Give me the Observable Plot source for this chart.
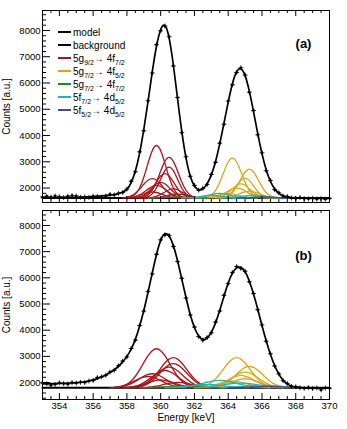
<!DOCTYPE html>
<html><head><meta charset="utf-8">
<script src="https://cdn.jsdelivr.net/npm/d3@7"></script>
<script src="https://cdn.jsdelivr.net/npm/@observablehq/plot@0.6"></script>
<style>
body{margin:0;background:#fff;font-family:"Liberation Sans",Arial,Helvetica,sans-serif;}
#chart{width:347px;height:429px;overflow:hidden}
svg{display:block}
</style></head><body><div id="chart"></div>
<script>
// ---------------- data ----------------
const energyStart = 353;          // keV, first point of the measured grid
const energyStep = 0.25;          // keV
const xDomain = [353, 370];
const xMajorTicks = [354, 356, 358, 360, 362, 364, 366, 368, 370];
const xMinorTicks = d3.range(353, 370.01, 0.5);
const yLabelTicks = [2000, 3000, 4000, 5000, 6000, 7000, 8000];
const yMinorTicks = d3.range(1400, 8701, 200);

// panel (a)
const modelA = [1640,1640,1640,1640, 1642,1643,1644,1645, 1648,1652,1658,1666, 1676,1688,1700,1714,
  1730,1755,1790,1850, 1950,2210,2650,3320, 4230,5290,6410,7390, 8030,8190,7710,6690,
  5400,4160,3150,2460, 2080,1935,1970,2160, 2500,3010,3690,4470, 5270,5970,6430,6540,
  6280,5690,4910,4070, 3310,2700,2260,1970, 1800,1705,1655,1635, 1627,1622,1620,1620,
  1619,1618,1618,1617, 1617];
const dataA = [1660,1690,1655,1700, 1670,1640,1690,1715, 1700,1650,1660,1645, 1690,1680,1650,1700,
  1760,1740,1800,1830, 1960,2260,2620,3380, 4180,5320,6380,7460, 7990,8170,7760,6650,
  5450,4110,3190,2450, 2100,1920,1990,2140, 2520,2980,3710,4430, 5310,5930,6400,6580,
  6300,5650,4950,4030, 3340,2660,2290,1940, 1820,1700,1680,1620, 1600,1640,1600,1590,
  1610,1580,1600,1575, 1600];
const backgroundA = 1620;
const redStartA = [358.0, 358.75, 358.75, 358.5, 357.75, 358.25, 358.0, 359.0, 357.75, 359.25];
const redA = [
  [12,48,152,383,790,1324,1804,2000,1804,1324,790,383,152,48,12],
  [9,37,118,296,612,1026,1398,1550,1398,1026,612,296,118,37,9],
  [2,13,52,159,384,716,1042,1180,1042,716,384,159,52,13,2],
  [6,22,71,178,367,616,839,930,839,616,367,178,71,22,6],
  [10,33,84,184,339,523,679,740,679,523,339,184,84,33,10],
  [4,14,46,115,237,397,541,600,541,397,237,115,46,14,4],
  [7,21,55,120,220,339,440,480,440,339,220,120,55,21,7],
  [2,8,27,67,138,232,316,350,316,232,138,67,27,8,2],
  [3,10,26,57,105,163,211,230,211,163,105,57,26,10,3],
  [2,7,17,37,69,106,138,150,138,106,69,37,17,7,2]];
const goldStartA = [362.5, 363.5, 363.25, 363.0, 362.75, 363.5, 362.25];
const goldA = [
  [9,36,116,290,600,1006,1371,1520,1371,1006,600,290,116,36,9],
  [7,26,84,210,435,728,992,1100,992,728,435,210,84,26,7],
  [2,8,33,103,247,461,671,760,671,461,247,103,33,8,2],
  [3,13,41,103,213,357,487,540,487,357,213,103,41,13,3],
  [5,17,43,95,174,269,348,380,348,269,174,95,43,17,5],
  [4,11,30,65,119,184,238,260,238,184,119,65,30,11,4],
  [2,7,19,42,78,120,156,170,156,120,78,42,19,7,2]];
const greenStartA = [359.25];
const greenA = [[1,2,5,10,18,28,37,40,37,28,18,10,5,2,1]];
const cyanStartA = [361.75, 361.25, 363.75, 364.25];
const cyanA = [
  [3,8,21,45,82,127,165,180,165,127,82,45,21,8,3],
  [1,3,8,21,43,73,99,110,99,73,43,21,8,3,1],
  [2,5,13,27,50,78,101,110,101,78,50,27,13,5,2],
  [0,2,5,13,28,46,63,70,63,46,28,13,5,2,0]];
const purpleStartA = [364.5];
const purpleA = [[1,2,5,10,18,28,37,40,37,28,18,10,5,2,1]];

// panel (b)
const modelB = [1950,1950,1955,1960, 1965,1970,1975,1985, 1995,2010,2030,2060, 2100,2150,2210,2290,
  2380,2490,2620,2790, 3000,3280,3650,4150, 4750,5450,6180,6880, 7430,7680,7600,7230,
  6650,5950,5250,4600, 4100,3780,3650,3700, 3920,4280,4760,5300, 5800,6180,6380,6400,
  6230,5880,5380,4800, 4180,3600,3080,2650, 2320,2090,1950,1870, 1830,1810,1800,1795,
  1790,1790,1785,1785, 1785];
const dataB = [1990,1960,1900,1930, 1990,1960,1940,2000, 1980,2010,2000,2060, 2080,2190,2220,2280,
  2400,2470,2640,2820, 2980,3300,3620,4180, 4730,5480,6150,6900, 7450,7640,7620,7200,
  6620,5980,5230,4580, 4120,3760,3620,3720, 3900,4310,4730,5330, 5780,6200,6430,6360,
  6250,5850,5400,4780, 4200,3580,3100,2630, 2330,2070,1960,1850, 1840,1800,1780,1810,
  1770,1790,1720,1790, 1780];
const backgroundB = 1800;
const redStartB = [357.5, 358.5, 358.5, 358.25, 358.0, 357.25, 357.0, 357.75, 358.75];
const redB = [
  [28,66,136,256,440,682,960,1226,1418,1490,1418,1226,960,682,440,256,136,66,28],
  [22,51,105,198,339,527,741,946,1095,1150,1095,946,741,527,339,198,105,51,22],
  [17,40,84,158,271,421,592,757,876,920,876,757,592,421,271,158,84,40,17],
  [15,35,72,136,233,362,509,650,752,790,752,650,509,362,233,136,72,35,15],
  [13,29,60,114,195,302,425,543,628,660,628,543,425,302,195,114,60,29,13],
  [10,24,49,92,158,245,345,440,509,535,509,440,345,245,158,92,49,24,10],
  [8,19,39,74,127,197,277,354,409,430,409,354,277,197,127,74,39,19,8],
  [6,13,27,52,89,137,193,247,286,300,286,247,193,137,89,52,27,13,6],
  [4,9,19,36,62,96,135,173,200,210,200,173,135,96,62,36,19,9,4]];
const goldStartB = [362.25, 363.0, 362.75, 362.5, 362.75, 362.0];
const goldB = [
  [22,51,105,198,339,527,741,946,1095,1150,1095,946,741,527,339,198,105,51,22],
  [15,36,74,140,240,373,525,671,776,815,776,671,525,373,240,140,74,36,15],
  [11,26,55,103,177,275,386,494,571,600,571,494,386,275,177,103,55,26,11],
  [9,21,43,81,139,215,303,387,447,470,447,387,303,215,139,81,43,21,9],
  [7,15,31,59,102,158,222,284,328,345,328,284,222,158,102,59,31,15,7],
  [5,11,23,44,75,117,164,210,243,255,243,210,164,117,75,44,23,11,5]];
const greenStartB = [358.75];
const greenB = [[3,5,8,13,19,27,36,45,53,58,60,58,53,45,36,27,19,13,8,5,3]];
const cyanStartB = [361.0, 362.25, 360.25, 363.5];
const cyanB = [
  [12,22,38,60,91,128,170,211,247,271,280,271,247,211,170,128,91,60,38,22,12],
  [8,14,24,39,59,82,109,136,159,174,180,174,159,136,109,82,59,39,24,14,8],
  [5,10,16,26,39,55,73,91,106,116,120,116,106,91,73,55,39,26,16,10,5],
  [4,7,12,19,29,41,55,68,79,87,90,87,79,68,55,41,29,19,12,7,4]];
const purpleStartB = [364.0];
const purpleB = [[2,4,7,11,16,23,30,38,44,48,50,48,44,38,30,23,16,11,7,4,2]];

const colors = {red: "#ad151c", gold: "#dfa612", green: "#1e8c1e", cyan: "#22b3b3", purple: "#4a4a8e"};
const legendParts = [
  [["model", ""]],
  [["background", ""]],
  [["5g", "9/2"], ["\u2192 4f", "7/2"]],
  [["5g", "7/2"], ["\u2192 4f", "5/2"]],
  [["5g", "7/2"], ["\u2192 4f", "7/2"]],
  [["5f", "7/2"], ["\u2192 4d", "5/2"]],
  [["5f", "5/2"], ["\u2192 4d", "5/2"]]];
const legendColors = ["#000", "#000", colors.red, colors.gold, colors.green, colors.cyan, colors.purple];
const yTitle = "Counts [a.u.]";
const xTitle = "Energy [keV]";

// ---------------- build ----------------
const W = 347, ML = 42, MR = 18;
const FONT = '"Liberation Sans", Arial, Helvetica, sans-serif';

function gridRows(values) {
  return values.map((c, i) => ({e: energyStart + i * energyStep, c}));
}
function compRows(list) {
  const rows = [];
  list.forEach(([starts, vals, bg, color, name]) => {
    starts.forEach((s, i) => vals[i].forEach((v, j) =>
      rows.push({e: s + j * energyStep, c: bg + v, id: name + i, color})));
  });
  return rows;
}

function panel(cfg) {
  const plotH = cfg.height - cfg.marginTop - cfg.marginBottom;
  const plotW = W - ML - MR;
  const bg = cfg.bg;
  const comps = compRows([
    [cfg.red[0], cfg.red[1], bg, colors.red, "r"],
    [cfg.gold[0], cfg.gold[1], bg, colors.gold, "g"],
    [cfg.green[0], cfg.green[1], bg, colors.green, "n"],
    [cfg.cyan[0], cfg.cyan[1], bg, colors.cyan, "c"],
    [cfg.purple[0], cfg.purple[1], bg, colors.purple, "p"]]);
  const marks = [
    Plot.line([{e: xDomain[0], c: bg}, {e: xDomain[1], c: bg}], {x: "e", y: "c", stroke: "#000", strokeWidth: 2}),
    Plot.line(comps, {x: "e", y: "c", z: "id", stroke: "color", strokeWidth: 1.3, curve: "natural"}),
    Plot.line(gridRows(cfg.model), {x: "e", y: "c", stroke: "#000", strokeWidth: 1.7, curve: "natural"}),
    Plot.dot(gridRows(cfg.data), {x: "e", y: "c", symbol: "plus", r: 1.7, stroke: "#000", strokeWidth: 0.8}),
    Plot.dot(gridRows(cfg.data), {x: "e", y: "c", r: 1.3, fill: "#000"}),
    Plot.tickY(yLabelTicks, {y: d => d, insetRight: plotW - 8, stroke: "#000"}),
    Plot.tickY(yMinorTicks.filter(v => v >= cfg.domainY[0] && v <= cfg.domainY[1] && v % 1000 !== 0), {y: d => d, insetRight: plotW - 4, stroke: "#000"}),
    Plot.tickX(xMajorTicks, {x: d => d, insetTop: plotH - 6, stroke: "#000"}),
    Plot.tickX(xMinorTicks.filter(v => v % 2 !== 0), {x: d => d, insetTop: plotH - 3, stroke: "#000"}),
    Plot.tickX(xMajorTicks, {x: d => d, insetBottom: plotH - 6, stroke: "#000"}),
    Plot.tickX(xMinorTicks.filter(v => v % 2 !== 0), {x: d => d, insetBottom: plotH - 3, stroke: "#000"}),
    Plot.frame({stroke: "#000", strokeWidth: 1}),
    Plot.axisY(yLabelTicks, {tickSize: 0, tickPadding: 2, label: null, tickFormat: d => String(d), fontSize: 9.5}),
    Plot.text([yTitle], {frameAnchor: "left", rotate: -90, dx: -36, fontSize: 10, textAnchor: "middle"}),
    Plot.text([cfg.tag], {frameAnchor: "top-right", dx: -26, dy: cfg.tagDy, fontSize: 13, fontWeight: "bold", textAnchor: "middle"})
  ];
  if (cfg.showX) {
    marks.push(Plot.axisX(xMajorTicks, {tickSize: 0, tickPadding: 3, label: null, tickFormat: d => String(d), fontSize: 9.5}));
    marks.push(Plot.text([xTitle], {frameAnchor: "bottom", dy: 21, fontSize: 10, textAnchor: "middle"}));
  }
  return Plot.plot({
    width: W, height: cfg.height, marginLeft: ML, marginRight: MR,
    marginTop: cfg.marginTop, marginBottom: cfg.marginBottom,
    style: {fontFamily: FONT, fontSize: "9.5px", color: "#000", background: "transparent"},
    x: {domain: xDomain, axis: null},
    y: {domain: cfg.domainY, axis: null},
    marks
  });
}

const svgA = panel({
  height: 205, marginTop: 10, marginBottom: 3, domainY: [1450, 8760],
  model: modelA, data: dataA, bg: backgroundA,
  red: [redStartA, redA], gold: [goldStartA, goldA], green: [greenStartA, greenA],
  cyan: [cyanStartA, cyanA], purple: [purpleStartA, purpleA],
  tag: "(a)", tagDy: 28, showX: false
});
const svgB = panel({
  height: 224, marginTop: 5, marginBottom: 30, domainY: [1352, 8572],
  model: modelB, data: dataB, bg: backgroundB,
  red: [redStartB, redB], gold: [goldStartB, goldB], green: [greenStartB, greenB],
  cyan: [cyanStartB, cyanB], purple: [purpleStartB, purpleB],
  tag: "(b)", tagDy: 40, showX: true
});

// legend (panel a)
const lg = d3.select(svgA).append("g").attr("font-family", FONT).attr("font-size", 10)
  .attr("text-anchor", "start");
legendParts.forEach((parts, i) => {
  const y = 32 + i * 13;
  lg.append("line").attr("x1", 58).attr("x2", 71).attr("y1", y).attr("y2", y)
    .attr("stroke", legendColors[i]).attr("stroke-width", 2);
  const t = lg.append("text").attr("x", 73).attr("y", y + 3.5).attr("fill", "#000")
    .attr("text-anchor", "start");
  let shifted = false;
  parts.forEach(([main, sub]) => {
    t.append("tspan").attr("dy", shifted ? -3 : 0).text(main);
    shifted = false;
    if (sub) { t.append("tspan").attr("font-size", 7).attr("dy", 3).text(sub); shifted = true; }
  });
});

const chart = document.getElementById("chart");
chart.append(svgA, svgB);
</script>
</body></html>
